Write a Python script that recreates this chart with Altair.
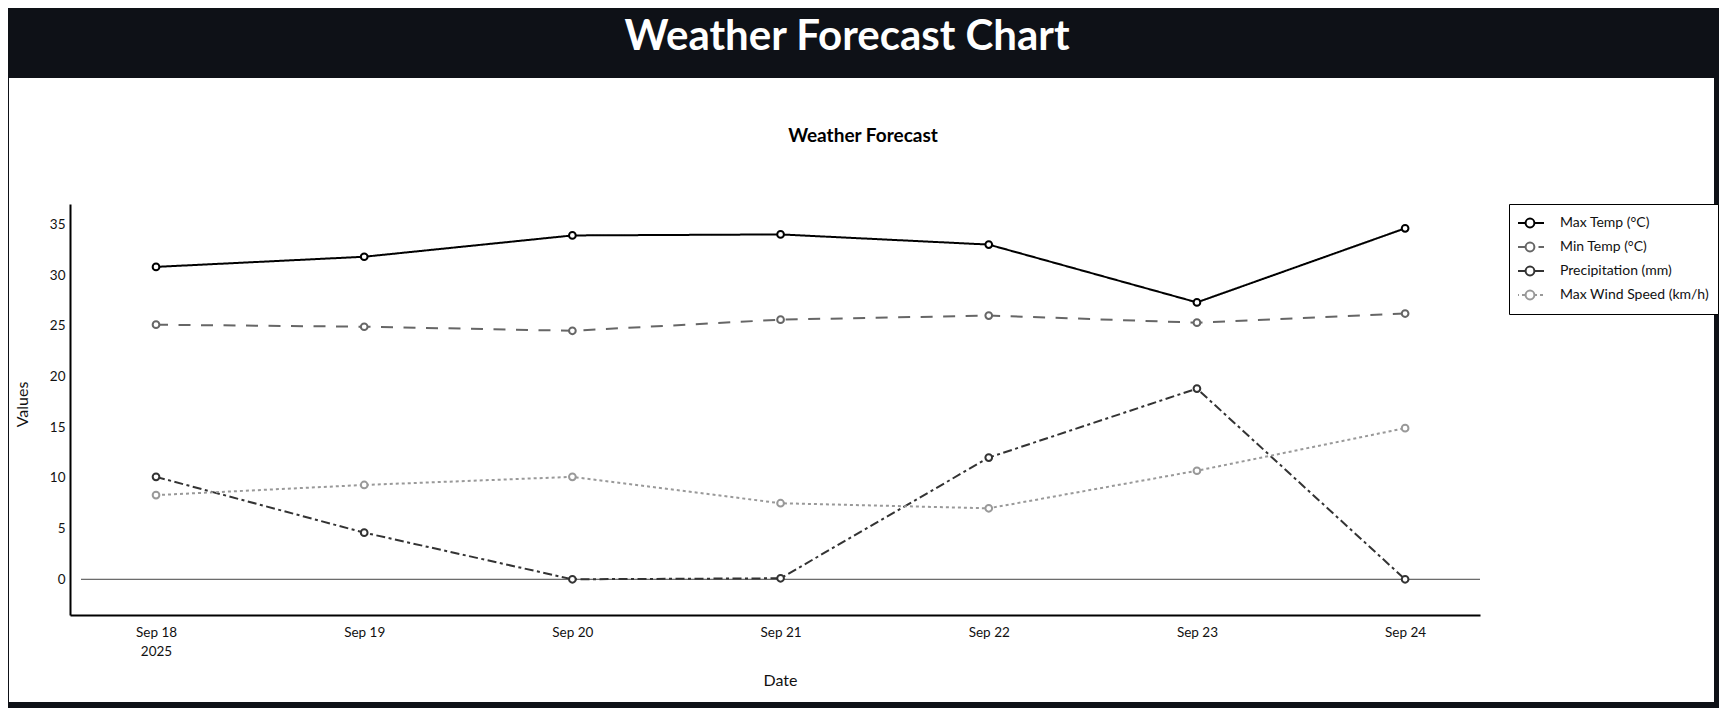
import altair as alt
import pandas as pd

# ---------------- data ----------------
dates = ["2025-09-18T00:00:00", "2025-09-19T00:00:00", "2025-09-20T00:00:00",
         "2025-09-21T00:00:00", "2025-09-22T00:00:00", "2025-09-23T00:00:00",
         "2025-09-24T00:00:00"]
series_names = ["Max Temp (°C)", "Min Temp (°C)", "Precipitation (mm)", "Max Wind Speed (km/h)"]
max_temp = [30.8, 31.8, 33.9, 34.0, 33.0, 27.3, 34.6]
min_temp = [25.1, 24.9, 24.5, 25.6, 26.0, 25.3, 26.2]
precipitation = [10.1, 4.6, 0.0, 0.1, 12.0, 18.8, 0.0]
max_wind = [8.3, 9.3, 10.1, 7.5, 7.0, 10.7, 14.9]
y_ticks = [0, 5, 10, 15, 20, 25, 30, 35]
zero_level = [0]

series_colors = ["#000000", "#666666", "#333333", "#999999"]
series_dashes = [[1, 0], [12, 10.5], [9, 3.5, 3, 3.5], [3, 3]]

FONT = "Lato"

rows = []
for name, vals in zip(series_names, [max_temp, min_temp, precipitation, max_wind]):
    for d, v in zip(dates, vals):
        rows.append({"date": d, "value": v, "series": name})
df = pd.DataFrame(rows)

# ---------------- shared encodings ----------------
x_axis = alt.Axis(
    title="Date", values=[alt.DateTime(year=2025, month=9, date=d) for d in range(18, 25)],
    labelExpr="datum.index == 0 ? [timeFormat(datum.value, '%b %d'), timeFormat(datum.value, '%Y')] : timeFormat(datum.value, '%b %d')",
    grid=False, ticks=False, tickSize=0, labelPadding=10, labelLineHeight=19,
    labelFlush=False, domainColor="#000000", domainWidth=2,
    titleX=710, titleY=65, titleBaseline="middle", zindex=2,
)
x_scale = alt.Scale(domain=[alt.DateTime(year=2025, month=9, date=17, hours=14, minutes=5),
                            alt.DateTime(year=2025, month=9, date=24, hours=8, minutes=38)])
y_axis = alt.Axis(
    title="Values", values=y_ticks, format="d", grid=False, ticks=False, tickSize=0,
    labelPadding=5, domainColor="#000000", domainWidth=2,
    titleX=-48, titleY=200, titleAngle=270, titleAlign="center", titleBaseline="middle",
    zindex=2,
)
y_scale = alt.Scale(domain=[-3.52, 37.0], nice=False, zero=False)

color_scale = alt.Scale(domain=series_names, range=series_colors)
dash_scale = alt.Scale(domain=series_names, range=series_dashes)
stroke_scale = alt.Scale(range=series_colors)  # data-derived domain (sorted like series_names)

common_legend = dict(
    title=None, orient="none", legendX=1439, legendY=0,
    symbolSize=484, symbolStrokeWidth=2, clipHeight=20,
    labelFontSize=14, labelColor="#111111", labelFont=FONT, labelOffset=18,
    labelLimit=300, padding=9, rowPadding=4,
)
line_legend = alt.Legend(
    symbolType="M-1.273,0L1.273,0",
    strokeColor="#000000", fillColor="#ffffff", zindex=1,
    **common_legend,
)
marker_legend = alt.Legend(
    symbolType="M-0.4,0A0.4,0.4,0,1,0,0.4,0A0.4,0.4,0,1,0,-0.4,0",
    symbolFillColor="#ffffff", labelExpr="''", zindex=2,
    **common_legend,
)

# ---------------- layers ----------------
panel = alt.Chart(pd.DataFrame({"k": [0]})).mark_rect(color="#ffffff").encode(
    x=alt.value(-61), x2=alt.value(1644), y=alt.value(-126), y2=alt.value(498)
)

main_title = alt.Chart(pd.DataFrame({"k": [0]})).mark_text(
    text="Weather Forecast Chart", font=FONT, fontSize=42, fontWeight="bold",
    color="#ffffff", align="center", baseline="alphabetic"
).encode(x=alt.value(777), y=alt.value(-154.5))

sub_title = alt.Chart(pd.DataFrame({"k": [0]})).mark_text(
    text="Weather Forecast", font=FONT, fontSize=19, fontWeight="bold",
    color="#000000", align="center", baseline="alphabetic"
).encode(x=alt.value(793), y=alt.value(-62.5))

zero_line = alt.Chart(pd.DataFrame({"zero": zero_level})).mark_rule(
    color="#444444", strokeWidth=1
).encode(
    y=alt.Y("zero:Q", scale=y_scale, axis=y_axis),
    x=alt.value(11), x2=alt.value(1410),
)

lines = alt.Chart(df).mark_line(strokeWidth=2).encode(
    x=alt.X("date:T", scale=x_scale, axis=x_axis),
    y=alt.Y("value:Q", scale=y_scale, axis=y_axis),
    color=alt.Color("series:N", scale=color_scale, legend=line_legend, sort=series_names),
    strokeDash=alt.StrokeDash("series:N", scale=dash_scale, legend=line_legend, sort=series_names),
)

points = alt.Chart(df).mark_point(
    filled=False, fill="#ffffff", size=45, strokeWidth=2, opacity=1
).encode(
    x=alt.X("date:T", scale=x_scale, axis=x_axis),
    y=alt.Y("value:Q", scale=y_scale, axis=y_axis),
    stroke=alt.Stroke("series:N", scale=stroke_scale, legend=marker_legend, sort=series_names),
)

chart = alt.layer(panel, main_title, sub_title, zero_line, lines, points).properties(
    width=1410, height=411,
    autosize=alt.AutoSizeParams(type="none"),
    padding={"left": 62, "top": 196, "right": 239, "bottom": 93},
).configure(
    background="#0e1117", font=FONT
).configure_view(
    stroke=None
).configure_axis(
    labelFont=FONT, titleFont=FONT, labelFontSize=13.5, titleFontSize=16,
    labelColor="#111111", titleColor="#111111", titleFontWeight="normal",
).configure_legend(
    labelFont=FONT, labelFontSize=14, labelColor="#111111", labelLimit=300,
)

chart.save("out.html", embed_options={"renderer": "svg", "actions": False})
